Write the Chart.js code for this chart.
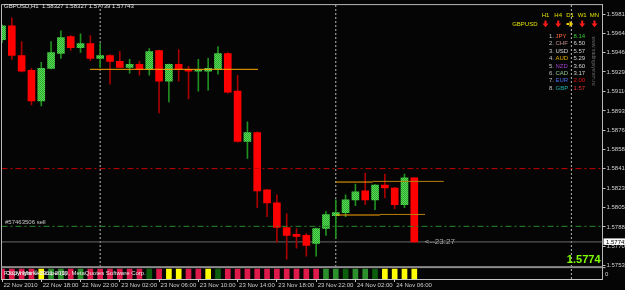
<!DOCTYPE html>
<html><head><meta charset="utf-8">
<script src="https://cdn.jsdelivr.net/npm/chart.js@4/dist/chart.umd.min.js"></script>
<style>html,body{margin:0;padding:0;background:#050505;overflow:hidden}#wrap{width:625px;height:290px;position:relative}</style>
</head><body><div id="wrap"><canvas id="c" width="625" height="290"></canvas></div>
<script>
// ---------- data ----------
const symbolTitle = 'GBPUSD,H1  1.58327 1.58327 1.57739 1.57743';
const opens  = [1.59584,1.59710,1.59440,1.59305,1.59026,1.59323,1.59458,1.59611,1.59512,1.59548,1.59413,1.59440,1.59386,1.59332,1.59359,1.59314,1.59485,1.59206,1.59359,1.59314,1.59296,1.59296,1.59314,1.59458,1.59116,1.58657,1.58738,1.58216,1.58099,1.57874,1.57811,1.57802,1.57730,1.57865,1.57982,1.58009,1.58126,1.58207,1.58126,1.58261,1.58234,1.58081,1.58327];
const highs  = [1.59719,1.59782,1.59566,1.59323,1.59377,1.59566,1.59665,1.59620,1.59638,1.59620,1.59548,1.59449,1.59476,1.59404,1.59386,1.59503,1.59490,1.59362,1.59494,1.59341,1.59404,1.59413,1.59521,1.59467,1.59260,1.58837,1.58745,1.58220,1.58171,1.58000,1.57865,1.57820,1.57870,1.58018,1.58126,1.58171,1.58270,1.58369,1.58265,1.58360,1.58240,1.58360,1.58327];
const lows   = [1.59557,1.59404,1.59290,1.58990,1.58981,1.59318,1.59413,1.59485,1.59467,1.59395,1.59332,1.59179,1.59328,1.59278,1.59260,1.59260,1.58918,1.59017,1.59206,1.59044,1.59116,1.59125,1.59269,1.59098,1.58650,1.58504,1.58054,1.57973,1.57739,1.57586,1.57685,1.57613,1.57613,1.57802,1.57775,1.57973,1.58072,1.58081,1.58036,1.58144,1.58045,1.58054,1.57739];
const closes = [1.59710,1.59440,1.59296,1.59026,1.59323,1.59467,1.59602,1.59512,1.59548,1.59413,1.59440,1.59386,1.59332,1.59359,1.59314,1.59476,1.59206,1.59359,1.59314,1.59296,1.59310,1.59323,1.59458,1.59107,1.58657,1.58738,1.58207,1.58099,1.57874,1.57802,1.57793,1.57712,1.57865,1.57991,1.58009,1.58126,1.58198,1.58126,1.58261,1.58234,1.58081,1.58327,1.57743];
// sub-window state per bar: R = bearish, Y = neutral, G = bullish, D = strong bullish
const signalStates = ['R','R','R','R','Y','G','G','R','G','R','R','R','R','R','R','D','R','Y','Y','R','R','Y','D','R','R','R','R','R','R','R','R','R','R','G','G','D','G','G','D','Y','Y','Y','Y'];
const timeTickIndex  = [0,4,8,12,16,20,24,28,32,36,40];
const timeTickLabels = ['22 Nov 2010','22 Nov 18:00','22 Nov 22:00','23 Nov 02:00','23 Nov 06:00','23 Nov 10:00','23 Nov 14:00','23 Nov 18:00','23 Nov 22:00','24 Nov 02:00','24 Nov 06:00'];
const daySeparators = [10,34,58];
const priceTicks = [1.59815,1.59640,1.59465,1.59290,1.59110,1.58935,1.58760,1.58585,1.58410,1.58230,1.58055,1.57880,1.57705,1.57530];
const resistanceLevel = 1.58410;
const orderLevel = 1.57885;
const orderLabel = '#57463506 sell';
const bidPrice = 1.57743;
const bidText = '1.57743';
const bigPriceText = '1.5774';
const timerText = '<--23:27';
const rangeStart = [8.96, 34.0, 37.76, 34.0, 38.5];
const rangeEnd   = [26.08, 37.76, 45.0, 38.5, 43.1];
const rangePrice = [1.59314, 1.58288, 1.58294, 1.57988, 1.57993];
const timeframes = ['H1','H4','D1','W1','MN'];
const tfDirections = ['down','down','right','down','down'];
const pairName = 'GBPUSD';
const currencies = ['JPY','CHF','USD','AUD','NZD','CAD','EUR','GBP'];
const strengths = [8.14,6.50,5.57,5.29,3.60,3.17,2.00,1.57];
const subTitleA = 'FXCM MarketScope (0)';
const subTitleB = 'Copyright \u00a9 2001-2010, MetaQuotes Software Corp.';
const watermark = 'www.tradingsystem.ru';

// ---------- styles ----------
const FONT = '"Liberation Sans", Arial, sans-serif';
Chart.defaults.font.family = FONT;
const xMin = -0.051, xMax = 61.17;
const yMin = 1.574055, yMax = 1.59903;
const stateColor = {R:'#e0194b', Y:'#ffff00', G:'#2b8f2b', D:'#0c5e0c'};
const curColor = ['#ff6a3d','#c08a8a','#d8d8d8','#e0b000','#a040d0','#90c890','#4a6ef0','#20b2aa'];
const valColor = ['#33cc33','#d0d0d0','#d0d0d0','#d0d0d0','#d0d0d0','#d0d0d0','#e01010','#e8303a'];

const greenFill = (() => {
  const c = document.createElement('canvas'); c.width = 2; c.height = 2;
  const g = c.getContext('2d');
  g.fillStyle = '#55dd55'; g.fillRect(0,0,2,2);
  g.fillStyle = '#2ea52e'; g.fillRect(0,0,1,1); g.fillRect(1,1,1,1);
  return g.createPattern(c, 'repeat');
})();

const bull = opens.map((o,i) => closes[i] >= o);
const bodies = opens.map((o,i) => ({x:i, y:[o, closes[i]]}));
const wicks = lows.map((l,i) => ({x:i, y:[l, highs[i]]}));
const signalBars = signalStates.map((s,i) => ({x:i, y:1}));

function hLine(x0, x1, p, color, dash, order){
  return {type:'line', data:[{x:x0,y:p},{x:x1,y:p}], borderColor:color, borderWidth:1,
    borderDash:dash||[], pointRadius:0, fill:false, order:order};
}
const datasets = [];
daySeparators.forEach(d => datasets.push({type:'line', data:[{x:d,y:yMin},{x:d,y:yMax}],
  borderColor:'#b8b8b8', borderWidth:1, borderDash:[2,2], pointRadius:0, fill:false, order:9}));
datasets.push({type:'bar', yAxisID:'y2', data:signalBars, backgroundColor:signalStates.map(s=>stateColor[s]),
  barThickness:5, grouped:false, order:8});
datasets.push({type:'bar', data:wicks, backgroundColor:bull.map(b=>b?'#1f8f1f':'#a80000'),
  barThickness:1, grouped:false, order:6});
datasets.push({type:'bar', data:bodies, backgroundColor:bull.map(b=>b?greenFill:'#ff0000'),
  barThickness:7, minBarLength:1, grouped:false, order:5});
datasets.push(hLine(xMin, xMax, bidPrice, '#6a6a6a', [], 7));
datasets.push(hLine(xMin, xMax, resistanceLevel, '#c80000', [6,3,2,3], 2));
datasets.push(hLine(xMin, xMax, orderLevel, '#2a8a2a', [6,3,2,3], 2));
const rangeColors = ['#ffa500','#ffa500','#b8800a','#ffa500','#b8800a'];
rangeStart.forEach((s,k) => datasets.push(hLine(s, rangeEnd[k], rangePrice[k], rangeColors[k], [], 1)));

function drawArrow(ctx, cx, cy, dir, color){
  ctx.fillStyle = color;
  ctx.beginPath();
  if (dir === 'down') {
    ctx.rect(cx - 1, cy - 3.5, 2, 3.5);
    ctx.moveTo(cx - 3, cy - 0.5); ctx.lineTo(cx + 3, cy - 0.5); ctx.lineTo(cx, cy + 3.2); ctx.closePath();
  } else {
    ctx.rect(cx - 3.5, cy - 1, 3.5, 2);
    ctx.moveTo(cx - 0.5, cy - 3); ctx.lineTo(cx - 0.5, cy + 3); ctx.lineTo(cx + 3.2, cy); ctx.closePath();
  }
  ctx.fill();
}

const overlay = {
  id:'overlay',
  beforeDraw(chart){
    const {ctx,width,height} = chart;
    ctx.save(); ctx.fillStyle = '#050505'; ctx.fillRect(0,0,width,height); ctx.restore();
  },
  afterDraw(chart){
    const {ctx, chartArea:a, scales} = chart;
    const ys = scales.y, y2 = scales.y2, xs = scales.x;
    ctx.save();
    // frame
    ctx.strokeStyle = '#b8b8b8'; ctx.lineWidth = 1;
    ctx.beginPath(); ctx.moveTo(a.left, a.bottom); ctx.lineTo(a.left, a.top); ctx.lineTo(a.right, a.top); ctx.stroke();
    const sepY = y2.getPixelForValue(1.2);
    ctx.fillStyle = '#8c8c8c'; ctx.fillRect(a.left, sepY - 1, a.right - a.left, 2);
    // sub-window scale label
    ctx.strokeStyle = '#c0c0c0'; ctx.beginPath(); ctx.moveTo(a.right, sepY + 0.5); ctx.lineTo(a.right + 3, sepY + 0.5); ctx.stroke();
    ctx.fillStyle = '#d0d0d0'; ctx.font = '6px ' + FONT; ctx.textBaseline = 'middle';
    ctx.fillText('0', a.right + 2.5, y2.getPixelForValue(0.5));

    // title
    ctx.fillStyle = '#e6e6e6'; ctx.font = '6px ' + FONT; ctx.textAlign = 'left';
    ctx.fillText(symbolTitle, 4, 6.5);
    // order label
    ctx.fillStyle = '#c8c8c8';
    ctx.fillText(orderLabel, 5, ys.getPixelForValue(orderLevel) - 3.5);
    // timer
    const lastX = xs.getPixelForValue(opens.length - 1);
    ctx.fillStyle = '#a8a8a8'; ctx.font = '8px ' + FONT;
    ctx.fillText(timerText, lastX + 10.5, ys.getPixelForValue(bidPrice) - 0.5);
    // big price
    ctx.fillStyle = '#80ff00'; ctx.font = 'bold 11px ' + FONT; ctx.textAlign = 'right';
    ctx.fillText(bigPriceText, a.right - 2, 259.5);
    // bid box on the price axis
    const by = ys.getPixelForValue(bidPrice);
    ctx.fillStyle = '#ffffff'; ctx.fillRect(a.right + 1, by - 3.5, 30, 6.5);
    ctx.fillStyle = '#000000'; ctx.font = '6px ' + FONT; ctx.textAlign = 'left';
    ctx.fillText(bidText, a.right + 3.5, by);

    // sub-window names
    ctx.fillStyle = '#e8e8e8'; ctx.font = '6px ' + FONT;
    ctx.fillText(subTitleA, 4, y2.getPixelForValue(0.55));
    ctx.fillText(subTitleB, 6, y2.getPixelForValue(0.55));

    // strength panel
    const tfX = [545.5, 558.2, 570, 582.2, 594.5];
    ctx.font = '6px ' + FONT; ctx.textAlign = 'center'; ctx.fillStyle = '#e0e000';
    timeframes.forEach((t,k) => ctx.fillText(t, tfX[k], 15.7));
    tfDirections.forEach((d,k) => drawArrow(ctx, tfX[k], 24, d, d === 'down' ? '#ff1a1a' : '#f0d000'));
    ctx.font = '6px ' + FONT; ctx.textAlign = 'right'; ctx.fillStyle = '#e0e000';
    ctx.fillText(pairName, 537.5, 24.5);
    ctx.textAlign = 'left';
    currencies.forEach((c,k) => {
      const ry = 36 + k * 7.47;
      ctx.fillStyle = '#c0c0c0'; ctx.fillText((k+1) + '.', 549, ry);
      ctx.fillStyle = curColor[k]; ctx.fillText(c, 555.5, ry);
      ctx.fillStyle = valColor[k]; ctx.fillText(strengths[k].toFixed(2), 573.5, ry);
    });
    // watermark
    ctx.translate(593.5, 61); ctx.rotate(Math.PI / 2);
    ctx.fillStyle = '#6a6a6a'; ctx.font = '5px ' + FONT; ctx.textAlign = 'center';
    ctx.fillText(watermark, 0, 0);
    ctx.restore();
  }
};

new Chart(document.getElementById('c'), {
  type:'bar',
  data:{datasets},
  options:{
    responsive:false, animation:false, devicePixelRatio:1, events:[],
    layout:{padding:{left:1.5, top:1.5, right:0, bottom:0}},
    plugins:{legend:{display:false}, tooltip:{enabled:false}},
    scales:{
      x:{type:'linear', min:xMin, max:xMax, offset:false,
        grid:{display:true, drawOnChartArea:false, drawTicks:true, tickLength:3, color:'#c0c0c0', offset:false},
        border:{display:true, color:'#c8c8c8'},
        afterBuildTicks:s => { s.ticks = timeTickIndex.map(v => ({value:v})); },
        afterFit:s => { s.height = 11; },
        ticks:{autoSkip:false, maxRotation:0, align:'start', labelOffset:1.5, padding:0,
          color:'#d0d0d0', font:{size:6, family:FONT},
          callback:v => { const k = timeTickIndex.indexOf(v); return k >= 0 ? timeTickLabels[k] : ''; }}
      },
      y:{type:'linear', position:'right', min:yMin, max:yMax,
        grid:{display:true, drawOnChartArea:false, drawTicks:true, tickLength:3, color:'#c0c0c0'},
        border:{display:true, color:'#b8b8b8'},
        afterBuildTicks:s => { s.ticks = priceTicks.map(v => ({value:v})); },
        afterFit:s => { s.width = 22.5; },
        ticks:{autoSkip:false, padding:1, color:'#d0d0d0', font:{size:6, family:FONT},
          callback:v => Number(v).toFixed(5)}
      },
      y2:{type:'linear', position:'right', display:false, min:0, max:27.75}
    }
  },
  plugins:[overlay]
});
</script></body></html>
